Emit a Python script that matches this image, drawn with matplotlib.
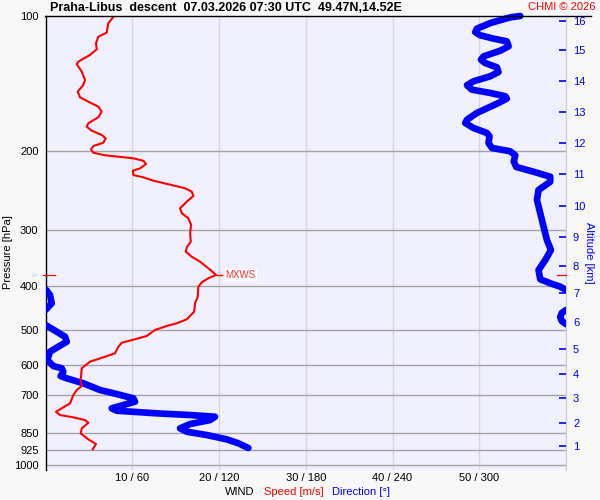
import numpy as np
import matplotlib
matplotlib.use("Agg")
import matplotlib.pyplot as plt
from matplotlib.ticker import NullLocator, FixedLocator, FixedFormatter
from matplotlib.transforms import Bbox, TransformedBbox
from matplotlib.lines import Line2D

plt.rcParams['font.family'] = ['Liberation Sans', 'DejaVu Sans']

# ---------------- data ----------------
# wind speed profile [m/s] vs pressure [hPa]
speed_p = [100, 103.8, 108.9, 111.2, 115.0, 118.6, 122.1, 126.4, 127.9, 133.1, 138.8, 142.4,
           147.4, 151.7, 155.2, 159.2, 163.3, 168.1, 173.4, 176.4, 180.1, 184.1, 187.2, 191.5,
           194.8, 198.2, 201.6, 204.3, 206.1, 207.5, 210.1, 213.6, 218.4, 221.1, 226.1, 228.7,
           232.7, 237.5, 241.9, 246.2, 251.6, 259.1, 268.1, 275.0, 282.2, 292.1, 304.8, 318.2,
           327.5, 334.9, 343.6, 352.5, 364.7, 377.4, 383.8, 391.8, 400.7, 421.9, 436.4, 455.6,
           473.7, 483.5, 490.2, 500.3, 516.0, 524.8, 534.1, 545.1, 563.9, 575.6, 588.8, 609.0,
           646.7, 667.1, 680.8, 698.5, 728.9, 747.8, 761.0, 774.0, 783.3, 794.2, 805.2, 828.7,
           850.3, 876.9, 897.9, 922.6]
speed_v = [7.9, 7.24, 7.06, 6.09, 5.82, 5.91, 5.13, 3.78, 3.60, 4.18, 4.56, 4.36,
           3.71, 3.98, 4.94, 6.09, 6.48, 6.09, 4.94, 4.75, 5.33, 6.48, 6.94, 6.67,
           5.51, 5.25, 5.51, 6.86, 8.79, 10.13, 11.28, 11.59, 10.90, 10.06, 10.13, 11.28,
           12.43, 14.36, 16.09, 16.86, 17.05, 16.29, 15.51, 15.71, 16.47, 16.78, 16.67, 16.75,
           16.29, 16.17, 16.86, 17.82, 18.78, 19.67, 18.78, 18.02, 17.62, 17.55, 17.24, 17.13,
           16.29, 15.13, 13.98, 12.63, 11.67, 10.32, 8.79, 8.40, 8.02, 6.67, 5.13, 4.18,
           4.06, 4.18, 3.60, 3.21, 2.83, 1.87, 1.21, 1.67, 3.21, 4.56, 4.94, 4.18,
           4.06, 4.94, 5.82, 5.44]

# wind direction profile [deg] vs pressure [hPa]
dir_p = [100, 100.7, 103.7, 106.7, 108.6, 110.4, 112.3, 113.9, 116.8, 119.5, 123.0, 125.1,
         127.3, 130.1, 133.3, 136.2, 139.8, 142.6, 145.9, 148.4, 150.9, 152.8, 156.8, 164.4,
         170.2, 173.1, 177.6, 182.2, 185.3, 191.8, 196.8, 200.1, 204.3, 210.9, 216.9, 222.3,
         228.0, 233.9, 244.1, 256.9, 275.0, 294.6, 315.4, 332.0, 349.4, 367.9, 385.8, 393.8,
         400.7, 407.6,
         407.6, 418.2, 436.4, 451.6,
         451.6, 458.6, 468.2, 478.0, 485.5,
         487.7, 504.9, 518.0, 531.4, 545.1, 559.4, 583.6, 601.9, 609.0, 619.8, 633.7, 641.2,
         657.8, 680.8, 695.0, 710.5, 722.8, 735.2, 747.8, 757.1, 767.3, 774.0, 780.7, 794.2,
         810.6, 828.7, 843.1, 857.6, 876.9, 894.8, 916.6]
dir_v = [328.4, 321.4, 307.6, 298.4, 297.2, 300.7, 309.9, 319.1, 320.3, 314.5, 303.0, 301.2,
         304.1, 312.2, 313.3, 307.6, 296.0, 291.5, 294.9, 307.6, 318.0, 319.1, 312.2, 298.4,
         291.5, 290.3, 296.0, 305.3, 307.1, 306.4, 308.8, 321.4, 324.9, 323.9, 325.6, 337.6,
         349.1, 349.1, 341.0, 339.9, 342.2, 344.5, 346.8, 349.6, 345.7, 341.0, 342.2, 349.1,
         356.0, 360.0,
         0.5, 3.1, 4.3, 0.0,
         360.0, 357.1, 356.0, 357.1, 360.0,
         0.0, 7.8, 13.5, 14.7, 8.9, 3.1, 1.2, 5.4, 11.2, 12.3, 10.5, 14.7,
         26.2, 37.7, 49.3, 60.8, 61.9, 53.8, 45.8, 49.3, 77.0, 100.0, 117.3, 113.8,
         100.0, 93.1, 97.7, 111.6, 125.4, 133.4, 140.3]

# max wind
mxws_p = 377.4
mxws_v = 19.67

# axis ticks
p_ticks = [100, 200, 300, 400, 500, 600, 700, 850, 925, 1000]
x_ticks = [10, 20, 30, 40, 50]
x_labels = ["10 / 60", "20 / 120", "30 / 180", "40 / 240", "50 / 300"]
alt_km = [1, 2, 3, 4, 5, 6, 7, 8, 9, 10, 11, 12, 13, 14, 15, 16]
alt_p = [907, 805, 710, 626, 550.8, 479.6, 414.7, 359.8, 310.6, 265.3, 225.3, 192.1,
         163.6, 139.5, 119.2, 102.4]

# ---------------- figure ----------------
W, H = 600, 500
fig = plt.figure(figsize=(6, 5), dpi=100, facecolor='#f8f8f8')
L, R, T, B = 45.5, 566, 16, 470
ax = fig.add_axes([L / W, 1 - B / H, (R - L) / W, (B - T) / H])
ax.set_facecolor('#f0f0fe')
ax.set_yscale('log')
ax.set_ylim(1026, 100)
ax.set_xlim(0, 60)

ax.yaxis.set_major_locator(FixedLocator(p_ticks))
ax.yaxis.set_major_formatter(FixedFormatter([str(p) for p in p_ticks]))
ax.yaxis.set_minor_locator(NullLocator())
ax.set_xticks(x_ticks)
ax.set_xticklabels(x_labels)
ax.tick_params(axis='both', which='both', length=0, labelsize=8)
ax.tick_params(axis='y', pad=5)
ax.tick_params(axis='x', pad=2)

for p in p_ticks[1:]:
    ax.axhline(p, color='#a4a4a4', lw=1.0, zorder=1)
for xv in x_ticks:
    ax.axvline(xv, color='#d8d8d8', lw=1.0, zorder=0.9)

ax.spines['top'].set_visible(False)
ax.spines['bottom'].set_visible(False)
ax.spines['left'].set_color('black')
ax.spines['left'].set_linewidth(1.0)
ax.spines['right'].set_color('#d0d0d0')
ax.spines['right'].set_linewidth(1.0)

# direction line (thick blue), break at wraps
dv = np.array(dir_v, dtype=float)
dp = np.array(dir_p, dtype=float)
xs, ys = [], []
for i in range(len(dv)):
    if i > 0 and abs(dv[i] - dv[i - 1]) > 180:
        xs.append(np.nan)
        ys.append(np.nan)
    xs.append(dv[i] / 6.0)
    ys.append(dp[i])
clip = TransformedBbox(Bbox([[0, 0], [1, 1.012]]), ax.transAxes)
bl, = ax.plot(xs, ys, color='#0000ff', lw=4.8, solid_capstyle='round',
              solid_joinstyle='round', zorder=3)
bl.set_clip_box(clip)

# speed line (red)
ax.plot(speed_v, speed_p, color='#ff0000', lw=1.5, zorder=4,
        solid_joinstyle='round')

# max wind marker
ax.plot([mxws_v, mxws_v + 0.7], [mxws_p, mxws_p], color='#ff0000', lw=1.0, zorder=4)
ax.text(mxws_v + 1.1, mxws_p, "MXWS", color='#ff3030', fontsize=7, va='center',
        ha='left', zorder=5,
        bbox=dict(facecolor='white', edgecolor='none', pad=0.8))
ax.plot([-0.3, 1.1], [mxws_p, mxws_p], color='#ff0000', lw=0.9,
        clip_on=False, zorder=5)
ax.plot([59.0, 60.0], [mxws_p, mxws_p], color='#ff0000', lw=0.9,
        clip_on=False, zorder=5)

# altitude axis
ax2 = ax.twinx()
ax2.set_yscale('log')
ax2.set_ylim(1026, 100)
ax2.yaxis.set_major_locator(FixedLocator(alt_p))
ax2.yaxis.set_major_formatter(FixedFormatter([str(a) for a in alt_km]))
ax2.yaxis.set_minor_locator(NullLocator())
ax2.tick_params(axis='y', which='major', direction='in', length=5, width=1.2,
                color='#0000ff', labelcolor='#0000ff', labelsize=8, pad=5)
ax2.tick_params(axis='y', which='minor', length=0)
for s in ax2.spines.values():
    s.set_visible(False)

# top black line
fig.add_artist(Line2D([45 / W, 591 / W], [1 - 16 / H, 1 - 16 / H],
                      color='black', lw=1.0))

# texts
fig.text(50 / W, 1 - 8 / H,
         "Praha-Libus  descent  07.03.2026 07:30 UTC  49.47N,14.52E",
         fontsize=9, fontweight='bold', ha='left', va='center')
fig.text(596 / W, 1 - 7 / H, "CHMI \u00a9 2026", color='#ff0000', fontsize=8,
         ha='right', va='center')
fig.text(8 / W, 1 - 252 / H, "Pressure [hPa]", rotation=90, fontsize=8,
         ha='center', va='center')
fig.text(589 / W, 1 - 253 / H, "Altitude [km]", rotation=270, fontsize=8,
         color='#0000ff', ha='center', va='center')
fig.text(225 / W, 1 - 492 / H, "WIND", fontsize=8, ha='left', va='center')
fig.text(264 / W, 1 - 492 / H, "Speed [m/s]", fontsize=8, color='#ff0000',
         ha='left', va='center')
fig.text(332 / W, 1 - 492 / H, "Direction [\u00b0]", fontsize=8, color='#0000ff',
         ha='left', va='center')

fig.savefig("out.png", dpi=100, facecolor=fig.get_facecolor())
